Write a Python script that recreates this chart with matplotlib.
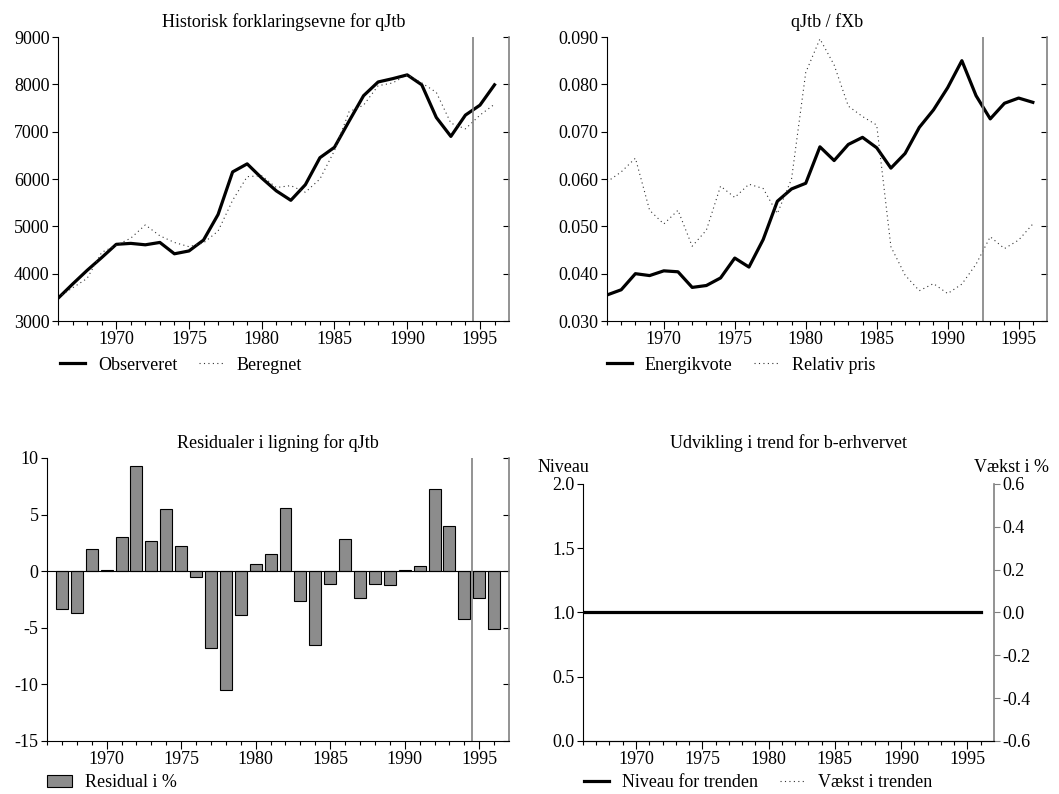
import matplotlib
matplotlib.use('Agg')
import matplotlib.pyplot as plt
from matplotlib.patches import Patch
from matplotlib.lines import Line2D
import numpy as np

plt.rcParams['font.family'] = ['Liberation Serif', 'DejaVu Serif']
plt.rcParams['font.size'] = 13
plt.rcParams['axes.unicode_minus'] = False

years = np.arange(1966, 1997)

# qJtb observed and fitted
observeret = [3480, 3780, 4070, 4340, 4620, 4640, 4610, 4660, 4420, 4480,
              4710, 5250, 6150, 6320, 6020, 5750, 5550, 5880, 6450, 6670,
              7220, 7760, 8050, 8120, 8200, 7990, 7300, 6900, 7350, 7560,
              7990]
beregnet = [3500, 3700, 3900, 4450, 4600, 4750, 5030, 4800, 4660, 4570,
            4650, 4900, 5550, 6050, 6070, 5820, 5860, 5720, 6000, 6600,
            7420, 7560, 7970, 8030, 8200, 8030, 7830, 7180, 7060, 7350,
            7580]

# energy share and relative price
energikvote = [0.0355, 0.0366, 0.0400, 0.0396, 0.0406, 0.0404, 0.0371,
               0.0375, 0.0391, 0.0433, 0.0414, 0.0472, 0.0553, 0.0579,
               0.0591, 0.0668, 0.0639, 0.0673, 0.0688, 0.0666, 0.0623,
               0.0654, 0.0709, 0.0746, 0.0793, 0.0850, 0.0776, 0.0727,
               0.0760, 0.0771, 0.0762]
relativ_pris = [0.0594, 0.0615, 0.0644, 0.0534, 0.0505, 0.0534, 0.0458,
                0.0492, 0.0585, 0.0561, 0.0589, 0.0580, 0.0527, 0.0600,
                0.0825, 0.0896, 0.0841, 0.0754, 0.0732, 0.0714, 0.0457,
                0.0397, 0.0364, 0.0379, 0.0358, 0.0378, 0.0420, 0.0478,
                0.0453, 0.0471, 0.0505]

res_years = np.arange(1967, 1997)
residual = [-3.3, -3.7, 2.0, 0.1, 3.0, 9.3, 2.7, 5.5, 2.2, -0.5, -6.8,
            -10.5, -3.9, 0.6, 1.5, 5.6, -2.6, -6.5, -1.1, 2.8, -2.4, -1.1,
            -1.2, 0.1, 0.5, 7.3, 4.0, -4.2, -2.4, -5.1]

niveau = [1.0] * len(years)
vaekst = [0.0] * len(years)

GRAY = '#808080'
DOTTED = dict(color='#333333', lw=0.8, ls=(0, (1, 3)))
fig = plt.figure(figsize=(10.59, 7.94), dpi=100)


def style_axes(ax, right_ticks=True):
    ax.set_xlim(1966, 1997)
    ax.set_xticks(range(1970, 1996, 5))
    ax.set_xticks(range(1966, 1997), minor=True)
    ax.tick_params(axis='x', which='major', direction='out', length=6,
                   width=0.8, pad=1.5)
    ax.tick_params(axis='x', which='minor', direction='out', length=3,
                   width=0.8)
    ax.tick_params(axis='y', which='major', direction='out', length=4,
                   width=0.8, right=right_ticks, pad=2)
    ax.tick_params(axis='y', which='minor', left=False, right=False)
    ax.spines['top'].set_visible(False)
    ax.spines['right'].set_color(GRAY)
    ax.spines['right'].set_linewidth(1.2)
    ax.spines['left'].set_linewidth(0.8)
    ax.spines['bottom'].set_linewidth(0.8)


def right_inward(ax):
    # ticks on the right spine point into the plot
    for t in ax.yaxis.get_major_ticks():
        t.tick2line.set_marker(matplotlib.lines.TICKLEFT)
        t.tick2line.set_markersize(4)


def add_legend(ax, handles, labels, x, y):
    ax.legend(handles=handles, labels=labels, loc='center left',
              bbox_to_anchor=(x, y), bbox_transform=fig.transFigure,
              ncol=len(labels), frameon=False, handlelength=1.4,
              handletextpad=0.7, columnspacing=1.2, borderpad=0,
              borderaxespad=0, fontsize=13)


# top left
ax1 = fig.add_axes([0.0548, 0.5957, 0.4259, 0.3577])
ax1.plot(years, observeret, color='black', lw=2.3)
ax1.plot(years, beregnet, **DOTTED)
ax1.axvline(1994.5, color=GRAY, lw=1.2)
ax1.set_ylim(3000, 9000)
ax1.set_yticks(range(3000, 9001, 1000))
style_axes(ax1)
right_inward(ax1)
fig.text(0.2677, 0.9664, 'Historisk forklaringsevne for qJtb', ha='center',
         va='baseline', fontsize=13)
add_legend(ax1, [Line2D([], [], color='black', lw=2.3),
                 Line2D([], [], **DOTTED)],
           ['Observeret', 'Beregnet'], 0.0567, 0.5403)

# top right
ax2 = fig.add_axes([0.5732, 0.5957, 0.4155, 0.3577])
ax2.plot(years, energikvote, color='black', lw=2.3)
ax2.plot(years, relativ_pris, **DOTTED)
ax2.axvline(1992.5, color=GRAY, lw=1.2)
ax2.set_ylim(0.03, 0.09)
ax2.set_yticks(np.arange(0.03, 0.0901, 0.01))
ax2.yaxis.set_major_formatter(matplotlib.ticker.FormatStrFormatter('%.3f'))
style_axes(ax2)
right_inward(ax2)
fig.text(0.7810, 0.9664, 'qJtb / fXb', ha='center', va='baseline',
         fontsize=13)
add_legend(ax2, [Line2D([], [], color='black', lw=2.3),
                 Line2D([], [], **DOTTED)],
           ['Energikvote', 'Relativ pris'], 0.5732, 0.5403)

# bottom left
ax3 = fig.add_axes([0.0444, 0.0668, 0.4363, 0.3564])
ax3.bar(res_years, residual, width=0.8, color='#8c8c8c', edgecolor='black',
        linewidth=0.8)
ax3.axhline(0, color='black', lw=0.8)
ax3.axvline(1994.5, color=GRAY, lw=1.2)
ax3.set_ylim(-15, 10)
ax3.set_yticks(range(-15, 11, 5))
style_axes(ax3)
right_inward(ax3)
fig.text(0.2625, 0.4362, 'Residualer i ligning for qJtb', ha='center',
         va='baseline', fontsize=13)
add_legend(ax3, [Patch(facecolor='#8c8c8c', edgecolor='black', lw=0.8)],
           ['Residual i %'], 0.0444, 0.0139)

# bottom right
ax4 = fig.add_axes([0.5505, 0.0668, 0.3881, 0.3237])
ax4.plot(years, niveau, color='black', lw=2.3)
ax4.set_ylim(0, 2)
ax4.set_yticks(np.arange(0, 2.01, 0.5))
ax4.yaxis.set_major_formatter(matplotlib.ticker.FormatStrFormatter('%.1f'))
style_axes(ax4, right_ticks=False)
ax4.spines['right'].set_visible(False)
ax4b = ax4.twinx()
ax4b.plot(years, vaekst, zorder=0, **DOTTED)
ax4b.set_ylim(-0.6, 0.6)
ax4b.set_yticks(np.arange(-0.6, 0.61, 0.2))
ax4b.yaxis.set_major_formatter(matplotlib.ticker.FormatStrFormatter('%.1f'))
ax4b.spines['top'].set_visible(False)
ax4b.spines['left'].set_visible(False)
ax4b.spines['right'].set_color(GRAY)
ax4b.spines['right'].set_linewidth(1.2)
ax4b.tick_params(axis='y', direction='out', length=4, width=0.8,
                 color=GRAY, pad=2)
ax4.set_zorder(ax4b.get_zorder() + 1)
ax4.patch.set_visible(False)
fig.text(0.7445, 0.4362, 'Udvikling i trend for b-erhvervet', ha='center',
         va='baseline', fontsize=13)
fig.text(0.5080, 0.4059, 'Niveau', ha='left', va='baseline', fontsize=13)
fig.text(0.9905, 0.4059, 'Vækst i %', ha='right', va='baseline',
         fontsize=13)
add_legend(ax4, [Line2D([], [], color='black', lw=2.3),
                 Line2D([], [], **DOTTED)],
           ['Niveau for trenden', 'Vækst i trenden'], 0.5515, 0.0139)

fig.savefig('out.png', dpi=100)
